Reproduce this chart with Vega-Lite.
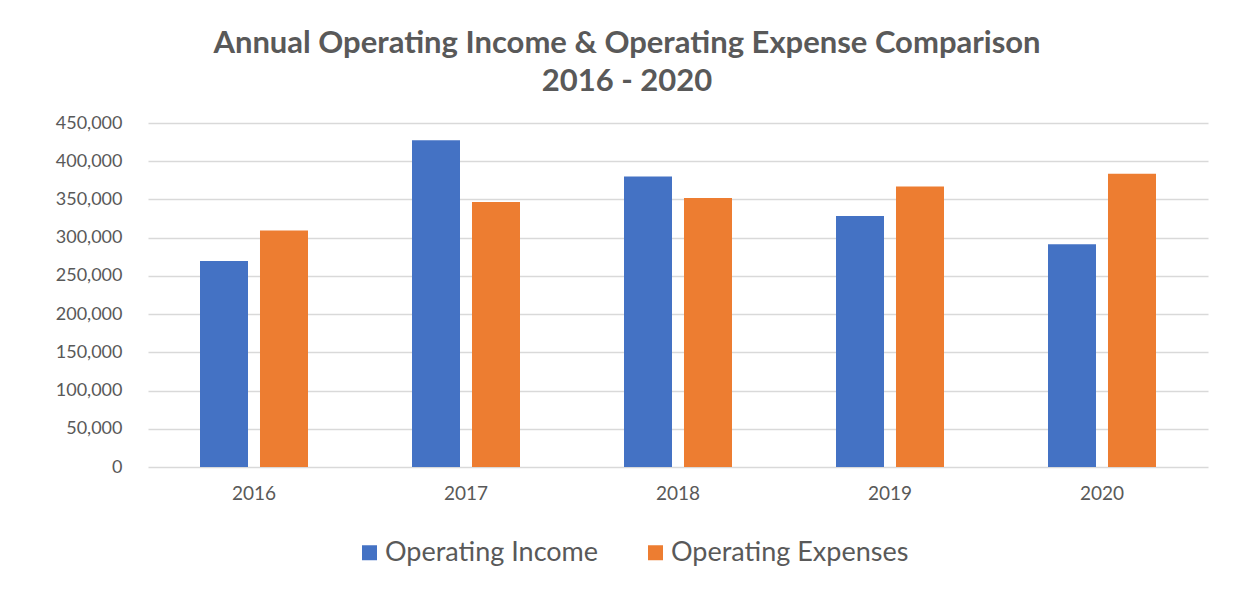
{
  "$schema": "https://vega.github.io/schema/vega-lite/v6.json",
  "autosize": {"type": "none"},
  "width": 1060,
  "height": 344,
  "padding": {"left": 148, "top": 123, "right": 40, "bottom": 123},
  "background": "white",
  "title": {
    "text": ["Annual Operating Income & Operating Expense Comparison", "2016 - 2020"],
    "font": "Lato",
    "fontSize": 31,
    "fontWeight": "bold",
    "color": "#595959",
    "lineHeight": 38,
    "anchor": "middle",
    "dx": -51,
    "offset": 16
  },
  "data": {
    "values": [
      {"year": "2016", "series": "Operating Income", "value": 269500},
      {"year": "2016", "series": "Operating Expenses", "value": 309500},
      {"year": "2017", "series": "Operating Income", "value": 427500},
      {"year": "2017", "series": "Operating Expenses", "value": 346500},
      {"year": "2018", "series": "Operating Income", "value": 380000},
      {"year": "2018", "series": "Operating Expenses", "value": 352000},
      {"year": "2019", "series": "Operating Income", "value": 328500},
      {"year": "2019", "series": "Operating Expenses", "value": 367000},
      {"year": "2020", "series": "Operating Income", "value": 291500},
      {"year": "2020", "series": "Operating Expenses", "value": 383500}
    ]
  },
  "mark": {"type": "bar"},
  "encoding": {
    "x": {
      "field": "year",
      "type": "nominal",
      "scale": {"paddingInner": 0.4906, "paddingOuter": 0.2453},
      "axis": {
        "title": null,
        "labelAngle": 0,
        "domain": false,
        "ticks": false,
        "labelFont": "Lato",
        "labelFontSize": 19,
        "labelColor": "#595959",
        "labelPadding": 17
      }
    },
    "xOffset": {
      "field": "series",
      "type": "nominal",
      "sort": ["Operating Income", "Operating Expenses"],
      "scale": {"paddingInner": 0.2, "paddingOuter": 0}
    },
    "y": {
      "field": "value",
      "type": "quantitative",
      "scale": {"domain": [0, 450000], "nice": false},
      "axis": {
        "title": null,
        "values": [0, 50000, 100000, 150000, 200000, 250000, 300000, 350000, 400000, 450000],
        "format": ",d",
        "domain": false,
        "ticks": false,
        "grid": true,
        "gridColor": "#D9D9D9",
        "gridWidth": 1.5,
        "labelFont": "Lato",
        "labelFontSize": 18,
        "labelColor": "#595959",
        "labelPadding": 26
      }
    },
    "color": {
      "field": "series",
      "type": "nominal",
      "sort": ["Operating Income", "Operating Expenses"],
      "scale": {"domain": ["Operating Income", "Operating Expenses"], "range": ["#4472C4", "#ED7D31"]},
      "legend": {
        "title": null,
        "orient": "none",
        "legendX": 208,
        "legendY": 416,
        "direction": "horizontal",
        "columns": 2,
        "columnPadding": 43,
        "symbolType": "square",
        "symbolSize": 225,
        "symbolStrokeWidth": 0,
        "labelOffset": 2,
        "labelFont": "Lato",
        "labelFontSize": 27,
        "labelColor": "#595959",
        "labelLimit": 400
      }
    }
  },
  "config": {"view": {"stroke": null}}
}
